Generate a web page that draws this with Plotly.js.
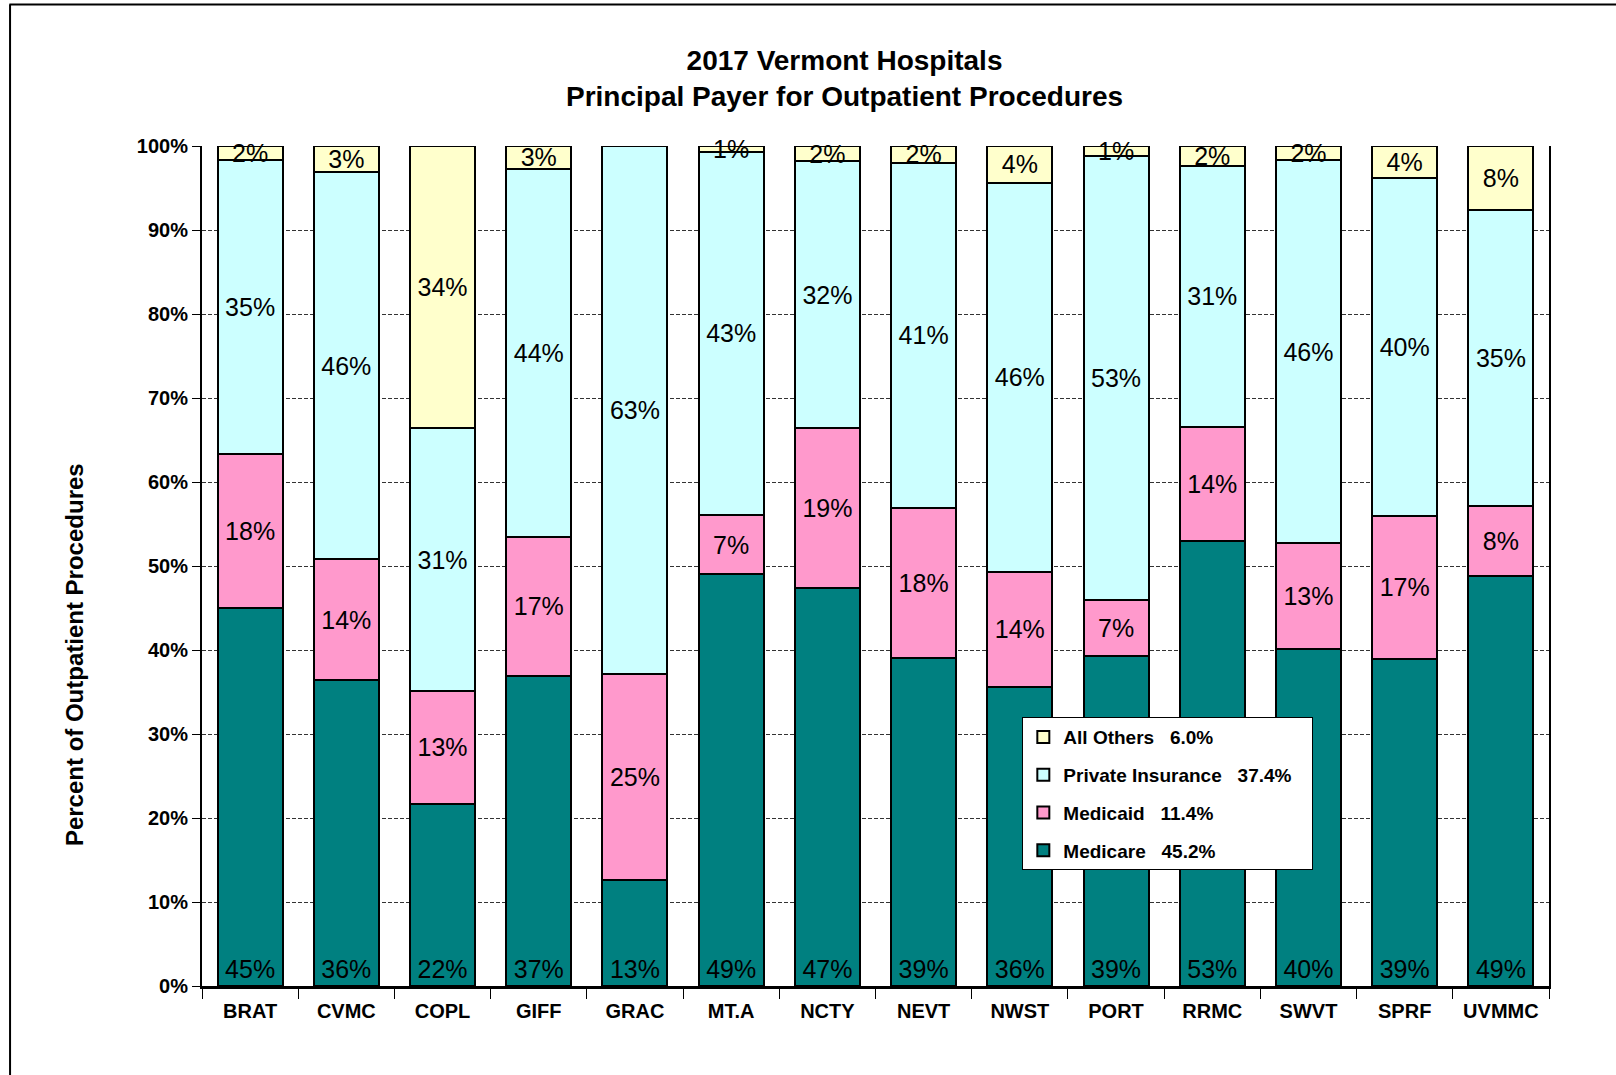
<!DOCTYPE html>
<html>
<head>
<meta charset="utf-8">
<script src="https://cdn.plot.ly/plotly-3.0.1.min.js"></script>
<style>
  html, body { margin: 0; padding: 0; background: #fff; }
  #chart { width: 1616px; height: 1075px; }
</style>
</head>
<body>
<div id="chart"></div>
<script>
// ---- Data (percent of outpatient procedures) ----
const hospitals = ["BRAT", "CVMC", "COPL", "GIFF", "GRAC", "MT.A", "NCTY", "NEVT", "NWST", "PORT", "RRMC", "SWVT", "SPRF", "UVMMC"];
const medicare  = [45.0, 36.4, 21.7, 36.9, 12.6, 49.0, 47.4, 39.1, 35.6, 39.3, 53.0, 40.1, 38.9, 48.8];
const medicaid  = [18.3, 14.4, 13.4, 16.6, 24.6,  7.1, 19.0, 17.8, 13.7,  6.7, 13.6, 12.6, 17.1,  8.3];
const privateIns= [35.0, 46.1, 31.3, 43.8, 62.8, 43.2, 31.8, 41.1, 46.3, 52.8, 31.0, 45.6, 40.2, 35.3];
const allOthers = [ 1.7,  3.1, 33.6,  2.7,  0.0,  0.7,  1.8,  2.0,  4.4,  1.2,  2.4,  1.7,  3.8,  7.6];
const seriesNames = ["Medicare\u00A0\u00A0\u00A045.2%", "Medicaid\u00A0\u00A0\u00A011.4%", "Private Insurance\u00A0\u00A0\u00A037.4%\u00A0\u00A0\u00A0", "All Others\u00A0\u00A0\u00A06.0%"];
const yTickVals = [0, 10, 20, 30, 40, 50, 60, 70, 80, 90, 100];
const yTickText = ["0%", "10%", "20%", "30%", "40%", "50%", "60%", "70%", "80%", "90%", "100%"];
const yTitle = "Percent of Outpatient Procedures";

const FONT = "Liberation Sans, Arial, Helvetica, sans-serif";
const colors = ["#008080", "#FF99CC", "#CCFFFF", "#FFFFCC"];
const seriesVals = [medicare, medicaid, privateIns, allOthers];

function labels(arr) { return arr.map(v => v > 0 ? Math.round(v) + "%" : ""); }

const traces = seriesVals.map((vals, i) => ({
  type: "bar",
  x: hospitals,
  y: vals,
  name: seriesNames[i],
  legendgroup: "g" + i,
  legendrank: 1000 - i,
  text: labels(vals),
  textposition: "inside",
  insidetextanchor: i === 0 ? "start" : "middle",
  textangle: 0,
  constraintext: "none",
  cliponaxis: false,
  textfont: { family: FONT, size: 25, color: "#000" },
  marker: { color: colors[i], line: { color: "#000", width: 2 } },
  hoverinfo: "x+y+name"
}));

const layout = {
  width: 1616,
  height: 1075,
  paper_bgcolor: "#fff",
  plot_bgcolor: "#fff",
  barmode: "stack",
  bargap: 0.325,
  margin: { l: 202, r: 67, t: 146, b: 89 },
  font: { family: FONT, color: "#000" },
  title: {
    text: "<b>2017 Vermont Hospitals<br>Principal Payer for Outpatient Procedures</b>",
    font: { family: FONT, size: 28, color: "#000" },
    x: 0.477, xref: "paper", xanchor: "center",
    y: 0.935, yref: "container", yanchor: "top"
  },
  xaxis: {
    type: "category",
    showline: true, linecolor: "#000", linewidth: 3, mirror: false,
    ticks: "outside", tickson: "boundaries", ticklen: 10, tickcolor: "#000", tickwidth: 1,
    ticklabelstandoff: 5,
    tickfont: { family: FONT, size: 20, color: "#000", weight: "bold" },
    showgrid: false, zeroline: false, fixedrange: true
  },
  yaxis: {
    range: [0, 100.0001],
    tickvals: yTickVals, ticktext: yTickText,
    ticks: "outside", ticklen: 8, tickcolor: "#000", tickwidth: 1,
    tickfont: { family: FONT, size: 20, color: "#000", weight: "bold" },
    showline: true, linecolor: "#000", linewidth: 2, mirror: true,
    showgrid: true, gridcolor: "#333", gridwidth: 1, griddash: "4px,2px",
    zeroline: false, fixedrange: true
  },
  annotations: [
    { text: "<b>" + yTitle + "</b>", xref: "paper", yref: "paper", x: -0.095, y: 0.394,
      xanchor: "center", yanchor: "middle", textangle: -90, showarrow: false,
      font: { family: FONT, size: 24, color: "#000" } }
  ],
  legend: {
    x: 0.609, xanchor: "left", xref: "paper",
    y: 0.32, yanchor: "top", yref: "paper",
    bgcolor: "#fff", bordercolor: "#000", borderwidth: 1,
    traceorder: "grouped", tracegroupgap: 10,
    font: { family: FONT, size: 19, color: "#000", weight: "bold" },
    itemwidth: 30
  },
  shapes: [
    { type: "line", xref: "paper", yref: "paper", x0: -0.143, x1: 1.06, y0: 1.1685, y1: 1.1685, line: { color: "#000", width: 2 } },
    { type: "line", xref: "paper", yref: "paper", x0: -0.1425, x1: -0.1425, y0: 1.1685, y1: -0.12, line: { color: "#000", width: 2 } }
  ],
  showlegend: true
};

Plotly.newPlot("chart", traces, layout, { displayModeBar: false, staticPlot: true });
</script>
</body>
</html>
